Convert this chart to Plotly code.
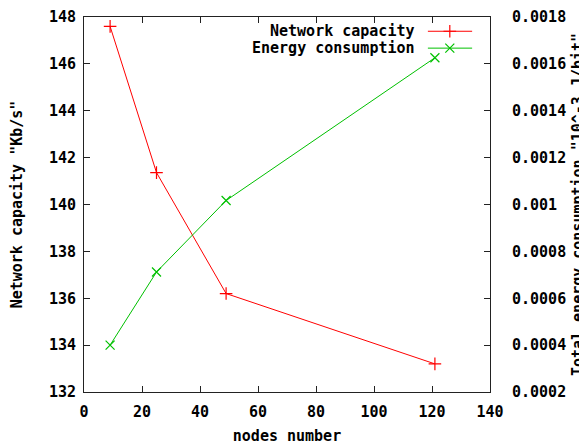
import plotly.graph_objects as go

nodes = [9, 25, 49, 121]
capacity = [147.6, 141.36, 136.2, 133.2]
energy = [0.0004, 0.000712, 0.001017, 0.001626]
x_ticks = [0, 20, 40, 60, 80, 100, 120, 140]
y_ticks = [132, 134, 136, 138, 140, 142, 144, 146, 148]
y2_ticks = [0.0002, 0.0004, 0.0006, 0.0008, 0.001, 0.0012, 0.0014, 0.0016, 0.0018]
y2_labels = ["0.0002", "0.0004", "0.0006", "0.0008", "0.001", "0.0012", "0.0014", "0.0016", "0.0018"]
series_names = ["Network capacity", "Energy consumption"]

RED = "#ff0000"
GREEN = "#00c000"
FONT = dict(family="DejaVu Sans Mono", size=15, color="black", weight="bold")
MSIZE = 9

fig = go.Figure()
fig.add_trace(go.Scatter(x=nodes, y=capacity, mode="lines+markers", name=series_names[0],
                         line=dict(color=RED, width=1),
                         marker=dict(symbol="cross-thin-open", size=MSIZE, color=RED, line=dict(color=RED, width=1.2)),
                         showlegend=False))
fig.add_trace(go.Scatter(x=nodes, y=energy, mode="lines+markers", name=series_names[1], yaxis="y2",
                         line=dict(color=GREEN, width=1),
                         marker=dict(symbol="x-thin-open", size=MSIZE, color=GREEN, line=dict(color=GREEN, width=1.2)),
                         showlegend=False))

# custom legend (text, then key) drawn in an overlay axis with 0..1 range
leg_y = [0.962, 0.917]
leg_colors = [RED, GREEN]
leg_symbols = ["cross-thin-open", "x-thin-open"]
for i in range(2):
    fig.add_trace(go.Scatter(x=[0.847, 0.956], y=[leg_y[i], leg_y[i]], mode="lines", xaxis="x3", yaxis="y3",
                             line=dict(color=leg_colors[i], width=1), showlegend=False, hoverinfo="skip"))
    fig.add_trace(go.Scatter(x=[0.901], y=[leg_y[i]], mode="markers", xaxis="x3", yaxis="y3",
                             marker=dict(symbol=leg_symbols[i], size=MSIZE, color=leg_colors[i],
                                         line=dict(color=leg_colors[i], width=1.2)),
                             showlegend=False, hoverinfo="skip"))
    fig.add_annotation(x=0.820, y=leg_y[i], xref="x3", yref="y3", text=series_names[i], showarrow=False,
                       xanchor="right", yanchor="middle", font=FONT)

axis_common = dict(showgrid=False, zeroline=False, showline=True, linecolor="#222", linewidth=1,
                   ticks="inside", ticklen=6, tickcolor="#222", tickfont=FONT, automargin=False,
                   ticklabeloverflow="allow")

# page body has an 8px margin, so the figure is sized to fit the 587x445 window
fig.update_layout(
    width=579, height=437,
    margin=dict(l=76, r=97, t=9, b=53),
    paper_bgcolor="white", plot_bgcolor="white",
    xaxis=dict(range=[0, 140], tickvals=x_ticks, mirror="ticks", ticklabelstandoff=6,
               title=dict(text="nodes number", font=FONT, standoff=14), **axis_common),
    yaxis=dict(range=[132, 148], tickvals=y_ticks, ticklabelstandoff=4,
               title=dict(text='Network capacity "Kb/s"', font=FONT, standoff=26), **axis_common),
    yaxis2=dict(range=[0.0002, 0.0018], tickvals=y2_ticks, ticktext=y2_labels, overlaying="y", side="right",
                ticklabelstandoff=18,
                title=dict(text='Total energy consumption "10^-3 J/bit"', font=FONT, standoff=12), **axis_common),
    xaxis3=dict(range=[0, 1], overlaying="x", visible=False, fixedrange=True),
    yaxis3=dict(range=[0, 1], overlaying="y", visible=False, fixedrange=True, anchor="x3"),
)

fig.write_html("out.html")
